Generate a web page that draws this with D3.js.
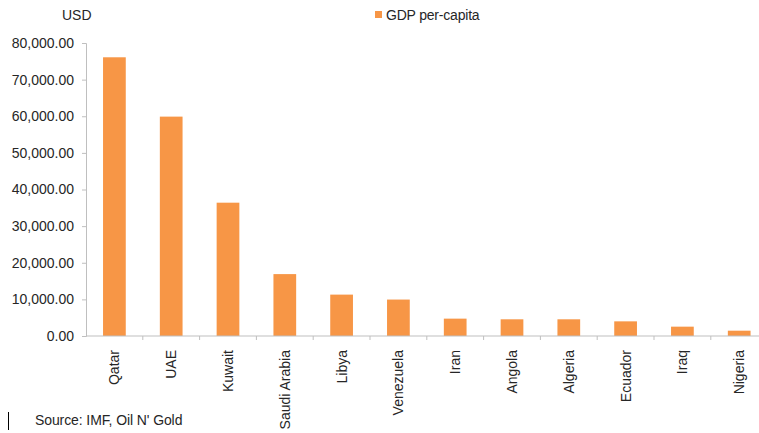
<!DOCTYPE html>
<html><head><meta charset="utf-8">
<script src="https://cdn.jsdelivr.net/npm/d3@7"></script>
<style>body{margin:0;background:#fff}svg{display:block}text{font-family:"Liberation Sans",Arial,sans-serif}</style>
</head><body>
<script>
const categories = ["Qatar","UAE","Kuwait","Saudi Arabia","Libya","Venezuela","Iran","Angola","Algeria","Ecuador","Iraq","Nigeria"];
const gdpPerCapita = [76100,59900,36400,16900,11300,9950,4740,4560,4560,4000,2550,1450];
const yTicks = [0,10000,20000,30000,40000,50000,60000,70000,80000];
const seriesName = "GDP per-capita";
const unitLabel = "USD";
const sourceText = "Source: IMF, Oil N' Gold";

const W = 759, H = 433;
const svg = d3.select("body").append("svg").attr("width", W).attr("height", H);
const x0 = 86, band = 56.8;
const x = d3.scaleBand().domain(categories).range([x0, x0 + band*categories.length]).paddingInner(0.6).paddingOuter(0.3);
const y = d3.scaleLinear().domain([0, 80000]).range([336, 43]);
const axisColor = "#bfbfbf", textColor = "#262626";

// bars
svg.selectAll("rect.bar").data(categories).enter().append("rect")
  .attr("class","bar")
  .attr("x", d => x(d)).attr("width", x.bandwidth())
  .attr("y", (d,i) => y(gdpPerCapita[i])).attr("height", (d,i) => y(0) - y(gdpPerCapita[i]))
  .attr("fill", "#F79646");

// y axis
const yAxis = svg.append("g").attr("transform", `translate(${x0},0)`)
  .call(d3.axisLeft(y).tickValues(yTicks).tickSize(4).tickPadding(8).tickFormat(d3.format(",.2f")));
yAxis.select(".domain").attr("stroke", axisColor);
yAxis.selectAll(".tick line").attr("stroke", axisColor);
yAxis.selectAll("text").attr("fill", textColor).style("font-size","14px").style("font-family","Liberation Sans, Arial, sans-serif");

// x axis
const xb = d3.scaleLinear().domain([0, categories.length]).range([x0, x0 + band*categories.length]);
svg.append("line").attr("x1", x0).attr("x2", W).attr("y1", y(0)).attr("y2", y(0)).attr("stroke", axisColor);
svg.selectAll("line.xt").data(d3.range(1, categories.length+1)).enter().append("line")
  .attr("class","xt").attr("x1", d => xb(d)).attr("x2", d => xb(d))
  .attr("y1", y(0)).attr("y2", y(0)+4).attr("stroke", axisColor);
svg.selectAll("text.xl").data(categories).enter().append("text")
  .attr("class","xl")
  .attr("transform", d => `translate(${x(d)+x.bandwidth()/2+5},${y(0)+14}) rotate(-90)`)
  .attr("text-anchor","end").attr("fill", textColor).style("font-size","14px")
  .text(d => d);

// unit label
svg.append("text").attr("x", 62).attr("y", 20).attr("fill", textColor).style("font-size","14px").text(unitLabel);

// legend
svg.append("rect").attr("x", 375).attr("y", 11).attr("width", 7).attr("height", 7).attr("fill", "#F79646");
svg.append("text").attr("x", 386).attr("y", 20).attr("fill", textColor).style("font-size","14px").style("letter-spacing","-0.2px").text(seriesName);

// source
svg.append("text").attr("x", 35).attr("y", 425).attr("fill", textColor).style("font-size","14px").style("letter-spacing","-0.1px").text(sourceText);
svg.append("line").attr("x1", 8.5).attr("x2", 8.5).attr("y1", 412).attr("y2", 430).attr("stroke", "#000");
</script>
</body></html>
